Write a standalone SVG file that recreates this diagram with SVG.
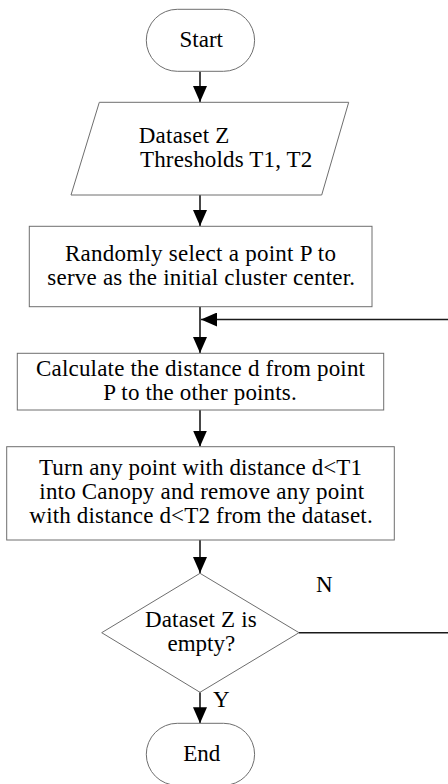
<svg xmlns="http://www.w3.org/2000/svg" width="448" height="784" viewBox="0 0 448 784">
<style>
.box{fill:#fff;stroke:#6e6e6e;stroke-width:1}
text{font-family:'Liberation Serif','Times New Roman',serif;font-size:23px;fill:#000}
.c{text-anchor:middle}
.edge{fill:none;stroke:#1a1a1a;stroke-width:1.6}
</style>
<defs>
<marker id="ah" markerUnits="userSpaceOnUse" markerWidth="16" markerHeight="14" refX="16" refY="7" orient="auto">
<path d="M0,0 L16,7 L0,14 z" fill="#000"/>
</marker>
</defs>
<rect width="448" height="784" fill="#fff"/>
<g id="connectors">
<line class="edge" x1="200" y1="71.5" x2="200" y2="102" marker-end="url(#ah)"/>
<line class="edge" x1="200" y1="195" x2="200" y2="226" marker-end="url(#ah)"/>
<line class="edge" x1="200" y1="307" x2="200" y2="353" marker-end="url(#ah)"/>
<line class="edge" x1="450" y1="319.5" x2="201" y2="319.5" marker-end="url(#ah)"/>
<line class="edge" x1="200" y1="410" x2="200" y2="446.5" marker-end="url(#ah)"/>
<line class="edge" x1="200" y1="540" x2="200" y2="573" marker-end="url(#ah)"/>
<line class="edge" x1="299" y1="632.7" x2="450" y2="632.7"/>
<line class="edge" x1="200" y1="692.3" x2="200" y2="723.3" marker-end="url(#ah)"/>
<text x="316" y="591.7">N</text>
<text x="213" y="706.7">Y</text>
</g>
<g id="start">
<rect class="box" x="146.3" y="9.3" width="108.3" height="62" rx="31" ry="31"/>
<text class="c" x="201.3" y="47.3">Start</text>
</g>
<g id="input">
<polygon class="box" points="99.3,102.3 348.7,102.3 321.7,195 71,195"/>
<text x="138.7" y="142.7" textLength="90.7" lengthAdjust="spacing">Dataset Z</text>
<text x="140" y="166.7" textLength="172.3" lengthAdjust="spacing">Thresholds T1, T2</text>
</g>
<g id="select">
<rect class="box" x="29.3" y="226.3" width="342.7" height="80.4"/>
<text class="c" x="200.5" y="261" textLength="271" lengthAdjust="spacing">Randomly select a point P to</text>
<text class="c" x="201.2" y="285" textLength="307.7" lengthAdjust="spacing">serve as the initial cluster center.</text>
</g>
<g id="calc">
<rect class="box" x="17.3" y="353.3" width="366.4" height="56.7"/>
<text class="c" x="200.5" y="376" textLength="329" lengthAdjust="spacing">Calculate the distance d from point</text>
<text class="c" x="200" y="400" textLength="193.3" lengthAdjust="spacing">P to the other points.</text>
</g>
<g id="canopy">
<rect class="box" x="6.7" y="446.7" width="387.6" height="93.3"/>
<text class="c" x="200.5" y="475" textLength="323" lengthAdjust="spacing">Turn any point with distance d&lt;T1</text>
<text class="c" x="201.7" y="499.3" textLength="324.7" lengthAdjust="spacing">into Canopy and remove any point</text>
<text class="c" x="201" y="523.3" textLength="343.3" lengthAdjust="spacing">with distance d&lt;T2 from the dataset.</text>
</g>
<g id="decision">
<polygon class="box" points="200,573.3 299,632.7 200,692.3 101.7,632.7"/>
<text class="c" x="200.8" y="626.7" textLength="111.7" lengthAdjust="spacing">Dataset Z is</text>
<text class="c" x="201.3" y="650.7">empty?</text>
</g>
<g id="end">
<rect class="box" x="146.3" y="723.3" width="108.3" height="62" rx="31" ry="31"/>
<text class="c" x="201.7" y="761">End</text>
</g>
</svg>
